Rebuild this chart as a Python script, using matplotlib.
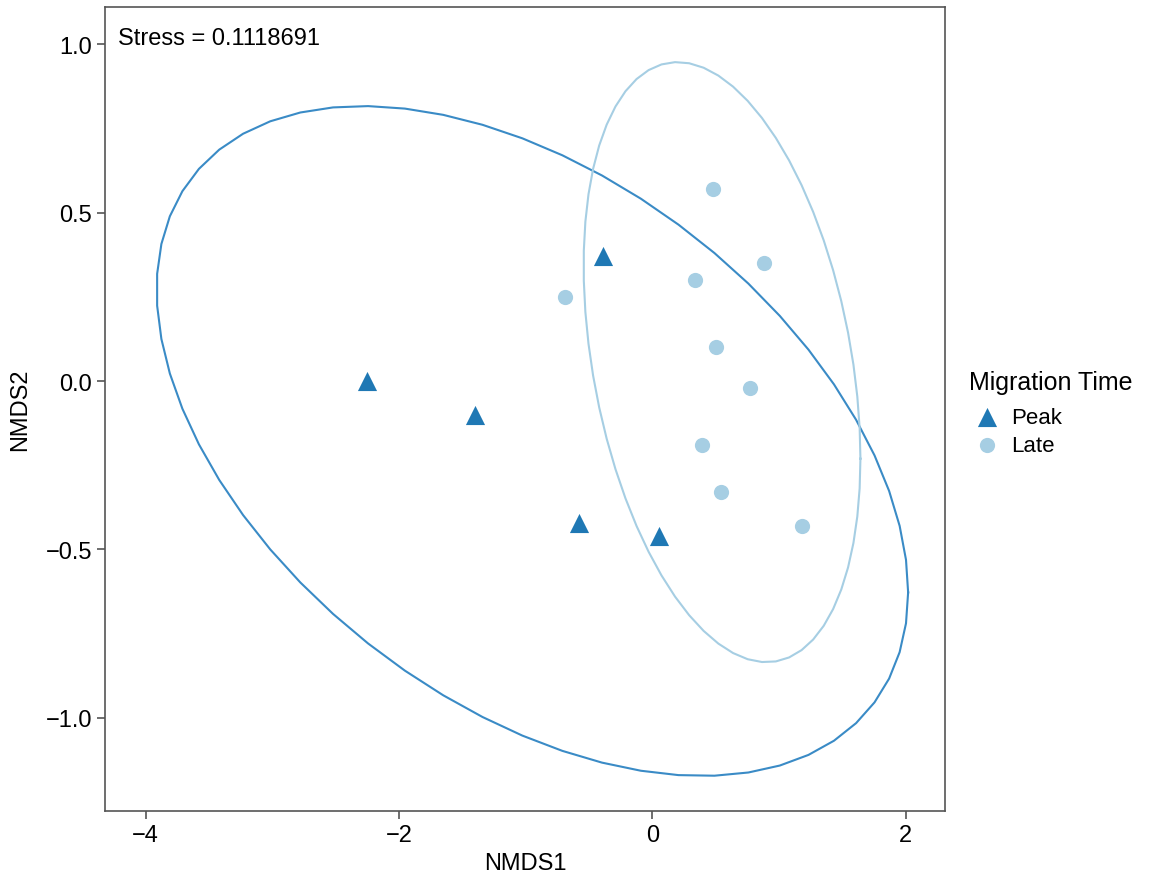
import numpy as np
import matplotlib
matplotlib.use("Agg")
import matplotlib.pyplot as plt

plt.rcParams['font.family'] = ['Liberation Sans', 'DejaVu Sans']

# NMDS scores
peak_x = [-2.25, -1.40, -0.39, -0.58, 0.05]
peak_y = [0.00, -0.10, 0.37, -0.42, -0.46]
late_x = [0.48, 0.88, 0.34, -0.69, 0.50, 0.77, 0.39, 0.54, 1.18]
late_y = [0.57, 0.35, 0.30, 0.25, 0.10, -0.02, -0.19, -0.33, -0.43]

# ellipse: centre and shape (var x, var y, cov xy)
peak_ell = [-0.947, -0.178, 2.966 ** 2, 0.994 ** 2, -1.333]
late_ell = [0.550, 0.056, 1.0925 ** 2, 0.8905 ** 2, -0.313]

stress = 0.1118691
peak_col = '#1F78B4'
late_col = '#A6CEE3'


def ellipse_pts(e, n=60):
    cx, cy, sxx, syy, sxy = e
    S = np.array([[sxx, sxy], [sxy, syy]])
    L = np.linalg.cholesky(S)
    t = np.linspace(0, 2 * np.pi, n)
    pts = L @ np.vstack([np.cos(t), np.sin(t)])
    return cx + pts[0], cy + pts[1]


fig = plt.figure(figsize=(11.53, 8.78), dpi=100)
ax = fig.add_axes([0.0911, 0.0752, 0.7285, 0.9157])

ex, ey = ellipse_pts(peak_ell)
ax.plot(ex, ey, color='#3a8bc6', lw=1.5)
ex, ey = ellipse_pts(late_ell)
ax.plot(ex, ey, color=late_col, lw=1.5)

ax.scatter(peak_x, peak_y, marker='^', s=190, color=peak_col, lw=0, label='Peak', zorder=3)
ax.scatter(late_x, late_y, marker='o', s=120, color=late_col, lw=0, label='Late', zorder=3)

ax.set_xlim(-4.32, 2.31)
ax.set_ylim(-1.276, 1.11)
ax.set_xticks([-4, -2, 0, 2])
ax.set_xticklabels(['\u22124', '\u22122', '0', '2'])
ax.set_yticks([-1.0, -0.5, 0.0, 0.5, 1.0])
ax.set_yticklabels(['\u22121.0', '\u22120.5', '0.0', '0.5', '1.0'])
ax.tick_params(labelsize=17, length=6, width=1.2, color='#555555', labelcolor='black')
for s in ax.spines.values():
    s.set_color('#555555')
    s.set_linewidth(1.2)

ax.set_xlabel('NMDS1', fontsize=17, labelpad=4)
ax.set_ylabel('NMDS2', fontsize=17, labelpad=10)

ax.text(0.016, 0.961, 'Stress = %s' % stress, transform=ax.transAxes,
        fontsize=17, va='center', ha='left')

leg = ax.legend(title='Migration Time', loc='center left', bbox_to_anchor=(1.01, 0.495),
                frameon=False, fontsize=16, title_fontsize=18, handletextpad=0.3,
                labelspacing=0.3, borderaxespad=0.3, handlelength=1.6)
leg._legend_box.align = 'left'
leg._legend_box.sep = 9

fig.savefig('out.png', dpi=100)
